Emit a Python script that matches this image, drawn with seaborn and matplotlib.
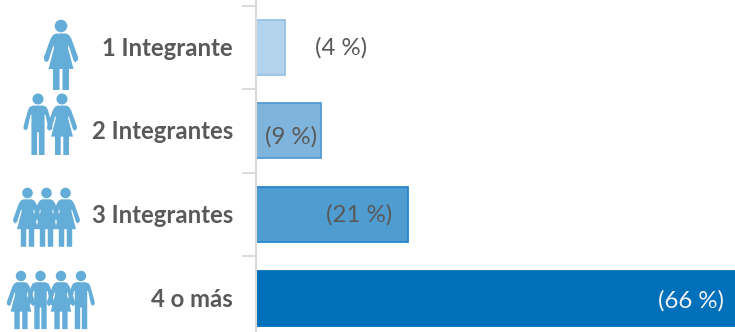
import matplotlib
matplotlib.use("Agg")
import matplotlib.pyplot as plt
from matplotlib.patches import Circle, Polygon
import pandas as pd
import seaborn as sns

categories = ["1 Integrante", "2 Integrantes", "3 Integrantes", "4 o más"]
shares = [4, 9, 21, 66]
value_labels = ["(4 %)", "(9 %)", "(21 %)", "(66 %)"]

fill_colors = ["#B3D3EC", "#7FB5DC", "#4F9CD1", "#0070BB"]
edge_colors = ["#95C3E6", "#4F9DD3", "#2A86CB", "#0070BB"]
icon_color = "#65ADD9"
text_color = "#595959"

W, H = 735, 332
sns.set_theme(style="white")
plt.rcParams["font.family"] = ["Lato", "DejaVu Sans"]

fig = plt.figure(figsize=(W / 100, H / 100), dpi=100)
ax = fig.add_axes([255.5 / W, 0, 1 - 255.5 / W, 1])

df = pd.DataFrame({"grupo": categories, "pct": shares})
sns.barplot(data=df, y="grupo", x="pct", hue="grupo", palette=fill_colors,
            legend=False, width=0.66, ax=ax, saturation=1)
for bar, edge in zip(ax.patches, edge_colors):
    bar.set_edgecolor(edge)
    bar.set_linewidth(1.3)

# One percentage point spans about 7.27 px; each row is about 83.6 px tall.
ax.set_xlim(0, (W - 255.5) / 7.27)
ax.set_ylim((332 - 47.3) / 83.6, -47.3 / 83.6)
ax.set_xlabel("")
ax.set_ylabel("")
ax.set_xticks([])
ax.set_yticks([i - 0.5 for i in range(4)], labels=[])
ax.tick_params(axis="y", left=True, length=10, width=1.3, color="#D9D9D9")
for side in ["top", "right", "bottom"]:
    ax.spines[side].set_visible(False)
ax.spines["left"].set_color("#D9D9D9")
ax.spines["left"].set_linewidth(1.5)

# Category names sit left of the axis, right-aligned.
for i, name in enumerate(categories):
    ax.annotate(name, xy=(0, i), xytext=(-22.5, -1), textcoords="offset pixels",
                ha="right", va="center", fontsize=17.2, fontweight="bold",
                color=text_color, annotation_clip=False)

# Value labels: (offset from bar end in px, vertical offset in px, alignment, colour).
label_styles = [
    (30, -1, "left", text_color),
    (-4, -6, "right", text_color),
    (-16, 0, "right", text_color),
    (-11, -3, "right", "#F2F2F2"),
]
for i, (pct, label) in enumerate(zip(shares, value_labels)):
    dx, dy, ha, color = label_styles[i]
    ax.annotate(label, xy=(pct, i), xytext=(dx, dy), textcoords="offset pixels",
                ha=ha, va="center", fontsize=17.3, color=color)

# Pictogram layer in pixel coordinates, y growing downwards.
icons = fig.add_axes([0, 0, 1, 1], zorder=3)
icons.set_xlim(0, W)
icons.set_ylim(H, 0)
icons.axis("off")
icons.patch.set_alpha(0)

WOMAN_HALF = [(0, 7.5), (5, 7.5), (8, 9), (10.5, 13), (17, 31), (17, 34), (14.5, 36.3),
              (12.5, 34.5), (7.5, 19), (7, 22), (12.5, 43), (8, 43), (8, 64), (1.5, 64), (1.5, 43), (0, 43)]
MAN_HALF = [(0, 7.5), (5.5, 7.5), (9.5, 9), (11.5, 13), (16.5, 31), (16.5, 34), (14, 36),
            (12, 34), (8.5, 18), (7.5, 18), (7.5, 64), (1, 64), (1, 38), (0, 38)]


def draw_person(cx, cy, scale, half):
    icons.add_patch(Circle((cx, cy), 6.3 * scale, fc=icon_color, ec="none"))
    right = [(cx + x * scale, cy + y * scale) for x, y in half]
    left = [(cx - x * scale, cy + y * scale) for x, y in reversed(half)]
    icons.add_patch(Polygon(right + left, closed=True, fc=icon_color, ec="none"))


groups = [
    (26, 1.0, [(61, WOMAN_HALF)]),
    (99, 0.875, [(38, MAN_HALF), (62, WOMAN_HALF)]),
    (193, 0.84, [(27.5, WOMAN_HALF), (65.5, WOMAN_HALF), (46.5, WOMAN_HALF)]),
    (276, 0.83, [(21, WOMAN_HALF), (40.5, MAN_HALF), (61, WOMAN_HALF), (81, MAN_HALF)]),
]
for head_y, scale, people in groups:
    for head_x, half in people:
        draw_person(head_x, head_y, scale, half)

fig.savefig("out.png", dpi=100, facecolor="white")
